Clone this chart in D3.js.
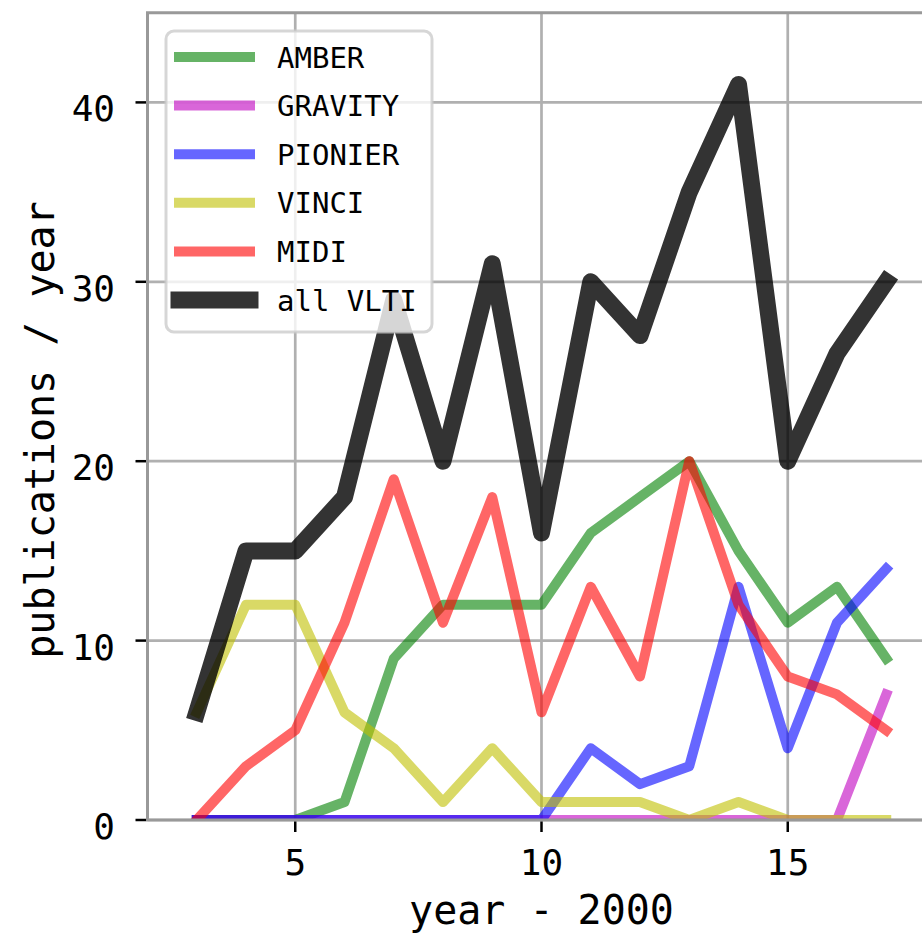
<!DOCTYPE html>
<html>
<head>
<meta charset="utf-8">
<script src="https://cdn.jsdelivr.net/npm/d3@7"></script>
<style>
  html, body { margin: 0; padding: 0; background: #fff; }
  svg { display: block; }
  text { font-family: "DejaVu Sans Mono", monospace; fill: #000; }
</style>
</head>
<body>
<svg id="chart" width="922" height="936"></svg>
<script>
const years = [3, 4, 5, 6, 7, 8, 9, 10, 11, 12, 13, 14, 15, 16, 17];
const amber   = [0, 0, 0, 1, 9, 12, 12, 12, 16, 18, 20, 15, 11, 13, 9];
const gravity = [0, 0, 0, 0, 0, 0, 0, 0, 0, 0, 0, 0, 0, 0, 7];
const pionier = [0, 0, 0, 0, 0, 0, 0, 0, 4, 2, 3, 13, 4, 11, 14];
const vinci   = [6, 12, 12, 6, 4, 1, 4, 1, 1, 1, 0, 1, 0, 0, 0];
const midi    = [0, 3, 5, 11, 19, 11, 18, 6, 13, 8, 20, 12, 8, 7, 5];
const allVLTI = [6, 15, 15, 18, 29, 20, 31, 16, 30, 27, 35, 41, 20, 26, 30];
const xTicks = [5, 10, 15];
const yTicks = [0, 10, 20, 30, 40];
const seriesNames = ["AMBER", "GRAVITY", "PIONIER", "VINCI", "MIDI", "all VLTI"];
const seriesValues = [amber, gravity, pionier, vinci, midi, allVLTI];
const seriesColors = ["#008000", "#bf00bf", "#0000ff", "#bfbf00", "#ff0000", "#000000"];
const seriesAlpha = [0.6, 0.6, 0.6, 0.6, 0.6, 0.8];
const seriesWidth = [10, 10, 10, 10, 10, 17];

const svg = d3.select("#chart");
const L = 147.5, R = 935.5, T = 12.7, B = 820;
const x = d3.scaleLinear().domain([2, 18]).range([L, R]);
const y = d3.scaleLinear().domain([0, 45]).range([B, T]);

svg.append("defs").append("clipPath").attr("id", "clip")
  .append("rect").attr("x", L).attr("y", T).attr("width", R - L).attr("height", B - T);

// grid
const grid = svg.append("g");
grid.selectAll(".gx").data(xTicks).enter().append("line")
  .attr("x1", d => x(d)).attr("x2", d => x(d)).attr("y1", T).attr("y2", B)
  .attr("stroke", "#b0b0b0").attr("stroke-width", 2.7);
grid.selectAll(".gy").data(yTicks).enter().append("line")
  .attr("x1", L).attr("x2", R).attr("y1", d => y(d)).attr("y2", d => y(d))
  .attr("stroke", "#b0b0b0").attr("stroke-width", 2.7);

// lines
const lineGen = d3.line().x((d, i) => x(years[i])).y(d => y(d));
const lines = svg.append("g").attr("clip-path", "url(#clip)");
seriesValues.forEach((vals, k) => {
  lines.append("path").datum(vals).attr("d", lineGen)
    .attr("fill", "none").attr("stroke", seriesColors[k])
    .attr("stroke-opacity", seriesAlpha[k]).attr("stroke-width", seriesWidth[k])
    .attr("stroke-linecap", "square").attr("stroke-linejoin", "round");
});

// spines
svg.append("line").attr("x1", L).attr("x2", L).attr("y1", T).attr("y2", B)
  .attr("stroke", "#999").attr("stroke-width", 3);
svg.append("line").attr("x1", L - 1.5).attr("x2", R).attr("y1", B).attr("y2", B)
  .attr("stroke", "#999").attr("stroke-width", 3);
svg.append("line").attr("x1", L - 1.5).attr("x2", R).attr("y1", T).attr("y2", T)
  .attr("stroke", "#999").attr("stroke-width", 3);

// x axis
const xAxis = svg.append("g");
xAxis.selectAll("line").data(xTicks).enter().append("line")
  .attr("x1", d => x(d)).attr("x2", d => x(d)).attr("y1", B + 1.5).attr("y2", B + 12)
  .attr("stroke", "#000").attr("stroke-width", 2.5);
xAxis.selectAll("text").data(xTicks).enter().append("text")
  .attr("x", d => x(d)).attr("y", 875).attr("text-anchor", "middle")
  .attr("font-size", 36).text(d => d);

// y axis
const yAxis = svg.append("g");
yAxis.selectAll("line").data(yTicks).enter().append("line")
  .attr("x1", L - 12).attr("x2", L - 1.5).attr("y1", d => y(d)).attr("y2", d => y(d))
  .attr("stroke", "#000").attr("stroke-width", 2.5);
yAxis.selectAll("text").data(yTicks).enter().append("text")
  .attr("x", 115).attr("y", d => y(d) + 19).attr("text-anchor", "end")
  .attr("font-size", 36).text(d => d);

// axis labels
svg.append("text").attr("x", 541.5).attr("y", 924).attr("text-anchor", "middle")
  .attr("font-size", 40).text("year - 2000");
svg.append("text").attr("transform", "translate(54,430) rotate(-90)")
  .attr("text-anchor", "middle").attr("font-size", 40).text("publications / year");

// legend
const lg = svg.append("g");
lg.append("rect").attr("x", 166).attr("y", 31).attr("width", 266).attr("height", 301)
  .attr("rx", 8).attr("ry", 8)
  .attr("fill", "#fff").attr("fill-opacity", 0.8)
  .attr("stroke", "#cccccc").attr("stroke-opacity", 0.8).attr("stroke-width", 3);
seriesNames.forEach((name, k) => {
  const cy = 57 + k * 48.6;
  lg.append("line").attr("x1", 179).attr("x2", 250).attr("y1", cy).attr("y2", cy)
    .attr("stroke", seriesColors[k]).attr("stroke-opacity", seriesAlpha[k])
    .attr("stroke-width", seriesWidth[k]).attr("stroke-linecap", "square");
  lg.append("text").attr("x", 277).attr("y", cy + 10.5).attr("font-size", 29).text(name);
});
</script>
</body>
</html>
